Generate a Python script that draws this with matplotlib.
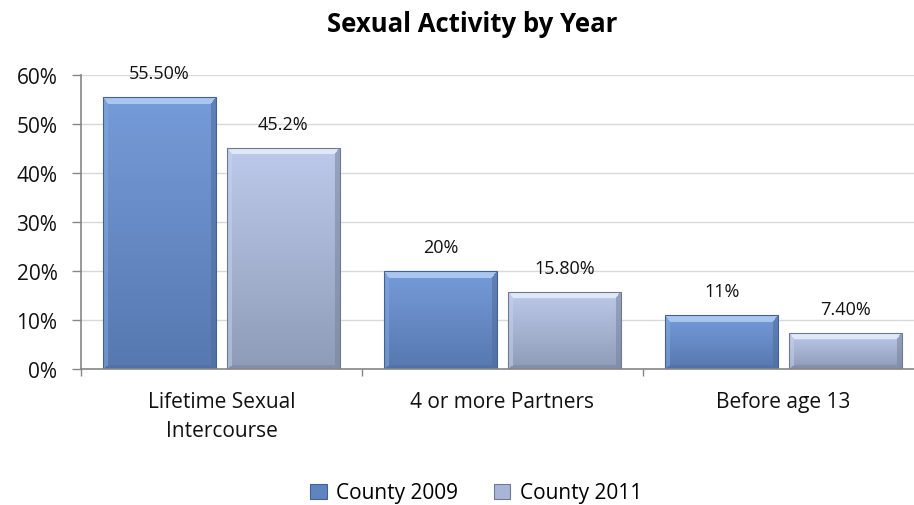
import numpy as np
import matplotlib
matplotlib.use("Agg")
import matplotlib.pyplot as plt
from matplotlib.patches import Patch
from matplotlib.ticker import FixedLocator, FuncFormatter

plt.rcParams['font.family'] = ['Open Sans', 'DejaVu Sans']

# Data
categories = ["Lifetime Sexual\nIntercourse", "4 or more Partners", "Before age 13"]
series_names = ["County 2009", "County 2011"]
county_2009 = [55.5, 20.0, 11.0]
county_2011 = [45.2, 15.8, 7.4]
labels_2009 = ["55.50%", "20%", "11%"]
labels_2011 = ["45.2%", "15.80%", "7.40%"]
y_ticks = [0, 10, 20, 30, 40, 50, 60]

# Shading palettes: bevel highlight, face top/bottom, side tones, outline
palettes = [
    dict(hi=(0.66, 0.78, 0.94), top=(0.46, 0.61, 0.85), bot=(0.34, 0.47, 0.69),
         left=(0.52, 0.67, 0.89), dark=(0.31, 0.42, 0.61), edge="#46618f"),
    dict(hi=(0.88, 0.91, 0.97), top=(0.74, 0.79, 0.92), bot=(0.56, 0.61, 0.72),
         left=(0.78, 0.83, 0.93), dark=(0.47, 0.51, 0.61), edge="#6f7a92"),
]
legend_colors = ["#5f84c2", "#a8b5d6"]

W_IN, H_IN, DPI = 9.14, 5.06, 100
fig = plt.figure(figsize=(W_IN, H_IN), dpi=DPI)
ax = fig.add_axes([81 / 914, 136 / 506, 843 / 914, 294 / 506])

x = np.arange(len(categories))
width = 0.40
offset = 0.22

FS_TICK = 15
FS_LABEL = 13
FS_TITLE = 18.5


def bevel_image(hpx, wpx, pal, b_top=7, b=5):
    hpx = max(int(round(hpx)), 2)
    wpx = max(int(round(wpx)), 2)
    img = np.zeros((hpx, wpx, 3))
    ii, jj = np.mgrid[0:hpx, 0:wpx]
    dt = ii.astype(float) * (b / b_top)
    db = (hpx - 1 - ii).astype(float) * 1.4
    dl = jj.astype(float)
    dr = (wpx - 1 - jj).astype(float)
    t = ii / max(hpx - 1, 1)
    top = np.array(pal["top"])
    bot = np.array(pal["bot"])
    face = top[None, None, :] * (1 - t[..., None]) + bot[None, None, :] * t[..., None]
    img[:] = face
    bb = min(b, hpx / 3, wpx / 3)
    dmin = np.minimum(np.minimum(dt, db), np.minimum(dl, dr))
    inb = dmin < bb
    m_top = inb & (dt == dmin)
    m_bot = inb & (db == dmin) & ~m_top
    m_left = inb & (dl == dmin) & ~m_top & ~m_bot
    m_right = inb & (dr == dmin) & ~m_top & ~m_bot & ~m_left
    hi = np.array(pal["hi"])
    img[m_top] = hi
    img[m_left] = 0.5 * face[m_left] + 0.5 * np.array(pal["left"])
    img[m_right] = 0.45 * face[m_right] + 0.55 * np.array(pal["dark"])
    img[m_bot] = 0.5 * face[m_bot] + 0.5 * np.array(pal["dark"])
    return np.clip(img, 0, 1)


ax.set_xlim(-0.5, 2.5)
ax.set_ylim(0, 60)

bars_all = []
for k, (vals, pal) in enumerate(zip([county_2009, county_2011], palettes)):
    pos = x + (-offset if k == 0 else offset)
    bars = ax.bar(pos, vals, width=width, color="none", edgecolor=pal["edge"],
                  linewidth=0.8, zorder=3)
    bars_all.append(bars)

fig.canvas.draw()
px_per_x = ax.transData.transform((1, 0))[0] - ax.transData.transform((0, 0))[0]
px_per_y = ax.transData.transform((0, 1))[1] - ax.transData.transform((0, 0))[1]

for bars, pal in zip(bars_all, palettes):
    for rect in bars:
        x0, y0 = rect.get_x(), rect.get_y()
        w, h = rect.get_width(), rect.get_height()
        img = bevel_image(h * px_per_y, w * px_per_x, pal)
        im = ax.imshow(img, extent=(x0, x0 + w, y0, y0 + h), aspect="auto",
                       origin="upper", zorder=2, interpolation="bilinear")
        im.set_clip_path(rect)

ax.set_xlim(-0.5, 2.5)
ax.set_ylim(0, 60)

# Value labels above each bar
for bars, labs in zip(bars_all, [labels_2009, labels_2011]):
    for rect, lab in zip(bars, labs):
        ax.annotate(lab, (rect.get_x() + rect.get_width() / 2, rect.get_height()),
                    xytext=(0, 17), textcoords="offset points", ha="center",
                    va="center", fontsize=FS_LABEL, color="#111111", zorder=5)

# Axes styling
ax.yaxis.set_major_locator(FixedLocator(y_ticks))
ax.yaxis.set_major_formatter(FuncFormatter(lambda v, p: f"{int(v)}%"))
ax.grid(axis="y", color="#d9d9d9", linewidth=1.0, zorder=0)
ax.set_axisbelow(True)
for s in ["top", "right"]:
    ax.spines[s].set_visible(False)
for s in ["left", "bottom"]:
    ax.spines[s].set_color("#868686")
    ax.spines[s].set_linewidth(1.2)
    ax.spines[s].set_zorder(4)
ax.tick_params(axis="y", direction="out", length=6.5, color="#868686", width=1,
               labelsize=FS_TICK, pad=10.5, labelcolor="#111111")

ax.set_xticks(x)
ax.set_xticklabels(categories, fontsize=FS_TICK, color="#111111", linespacing=1.5)
ax.set_xticks([-0.5, 0.5, 1.5, 2.5], minor=True)
ax.tick_params(axis="x", which="major", length=0, pad=16)
ax.tick_params(axis="x", which="minor", direction="out", length=5,
               color="#868686", width=1)

fig.text(472 / 914, 1 - 25 / 506, "Sexual Activity by Year", ha="center",
         va="center", fontsize=FS_TITLE, fontweight="bold", color="#000000")

handles = [Patch(facecolor=c, edgecolor=e, linewidth=0.8)
           for c, e in zip(legend_colors, [p["edge"] for p in palettes])]
fig.legend(handles, series_names, loc="center", bbox_to_anchor=(476 / 914, 1 - 494 / 506),
           ncol=2, frameon=False, fontsize=FS_TICK, handlelength=0.8, handleheight=0.75,
           handletextpad=0.45, columnspacing=1.7)

fig.savefig("out.png", dpi=DPI)
